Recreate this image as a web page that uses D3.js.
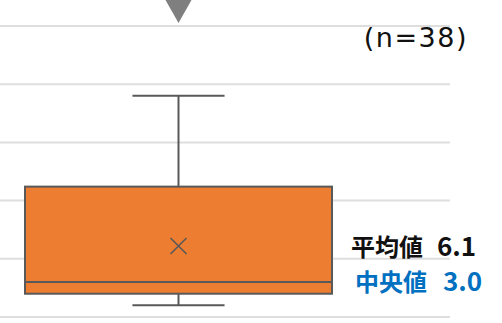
<!DOCTYPE html>
<html>
<head>
<meta charset="utf-8">
<script src="https://cdn.jsdelivr.net/npm/d3@7"></script>
<style>
  html, body { margin: 0; padding: 0; background: #fff; }
  svg { display: block; font-family: "Noto Sans CJK JP", "Noto Sans", sans-serif; }
</style>
</head>
<body>
<div id="chart"></div>
<script>
// box plot values
const categories = ["全体"]
const whiskerMin = [1.0]
const q1Values = [2.0]
const medianValues = [3.0]
const q3Values = [11.2]
const whiskerMax = [19.0]
const meanValues = [6.1]
const yTicks = [0, 5, 10, 15, 20, 25]
const sampleSize = 38

const width = 502, height = 323

const data = categories.map((c, i) => ({
    cat: c,
    min: whiskerMin[i], q1: q1Values[i], med: medianValues[i],
    q3: q3Values[i], max: whiskerMax[i], mean: meanValues[i]
}))

const svg = d3.select('#chart')
    .append('svg')
        .attr('width', width)
        .attr('height', height)

svg.append('rect')
    .attr('width', width)
    .attr('height', height)
    .attr('fill', '#fff')

const y = d3.scaleLinear()
    .domain([0, 25])
    .range([317, 26])

const x = d3.scaleBand()
    .domain(categories)
    .range([25, 332])
    .padding(0)

const gridRight = 450

// gridlines
svg.append('g')
    .selectAll('line')
    .data(yTicks)
    .join('line')
        .attr('x1', 0)
        .attr('x2', gridRight)
        .attr('y1', d => y(d))
        .attr('y2', d => y(d))
        .attr('stroke', '#dedede')
        .attr('stroke-width', 2)

const stroke = '#595959'
const g = svg.append('g')

data.forEach(d => {
    let cx = x(d.cat) + x.bandwidth() / 2
    let capW = x.bandwidth() * 0.3

    // whisker stem
    g.append('line')
        .attr('x1', cx).attr('x2', cx)
        .attr('y1', y(d.max)).attr('y2', y(d.min))
        .attr('stroke', stroke).attr('stroke-width', 2)

    // caps
    ;[d.min, d.max].forEach(v => {
        g.append('line')
            .attr('x1', cx - capW / 2).attr('x2', cx + capW / 2)
            .attr('y1', y(v)).attr('y2', y(v))
            .attr('stroke', stroke).attr('stroke-width', 2)
    })

    // box
    g.append('rect')
        .attr('x', x(d.cat))
        .attr('y', y(d.q3))
        .attr('width', x.bandwidth())
        .attr('height', y(d.q1) - y(d.q3))
        .attr('fill', '#ed7d31')
        .attr('stroke', stroke)
        .attr('stroke-width', 2)

    // median
    g.append('line')
        .attr('x1', x(d.cat)).attr('x2', x(d.cat) + x.bandwidth())
        .attr('y1', y(d.med)).attr('y2', y(d.med))
        .attr('stroke', stroke).attr('stroke-width', 2)

    // mean marker
    let s = 8
    g.append('path')
        .attr('d', `M${cx - s},${y(d.mean) - s}L${cx + s},${y(d.mean) + s}M${cx - s},${y(d.mean) + s}L${cx + s},${y(d.mean) - s}`)
        .attr('stroke', stroke)
        .attr('stroke-width', 1.6)
        .attr('fill', 'none')

    // pointer triangle above the plot
    let tip = y(25) - 3
    g.append('path')
        .attr('d', `M${cx - 13},${tip - 23}L${cx + 13},${tip - 23}L${cx},${tip}Z`)
        .attr('fill', '#7f7f7f')

    // labels
    let meanLabel = g.append('text')
        .attr('x', 351)
        .attr('y', y(d.mean) + 10)
        .attr('font-size', 24)
        .attr('font-weight', 700)
        .attr('fill', '#111')
    meanLabel.append('tspan').text('平均値')
    meanLabel.append('tspan').attr('dx', 14).attr('font-size', 26).text(d3.format('.1f')(d.mean))

    let medLabel = g.append('text')
        .attr('x', 355)
        .attr('y', y(d.med) + 9)
        .attr('font-size', 24)
        .attr('font-weight', 700)
        .attr('fill', '#0070c0')
    medLabel.append('tspan').text('中央値')
    medLabel.append('tspan').attr('dx', 16).attr('font-size', 26).text(d3.format('.1f')(d.med))
})

svg.append('text')
    .attr('x', 468)
    .attr('y', 47)
    .attr('text-anchor', 'end')
    .attr('font-family', '"DejaVu Sans", sans-serif')
    .attr('font-size', 27)
    .attr('letter-spacing', 1.5)
    .attr('fill', '#111')
    .text(`(n=${sampleSize})`)
</script>
</body>
</html>
